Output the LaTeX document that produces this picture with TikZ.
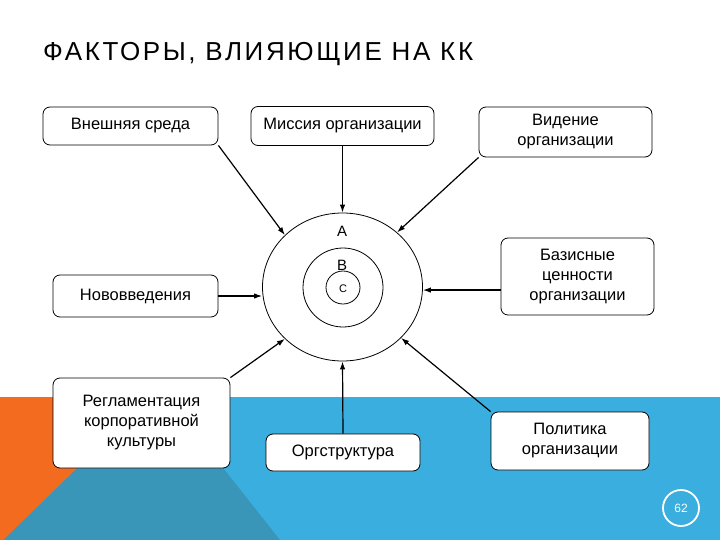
\documentclass[tikz,border=0pt]{standalone}
\usepackage{fontspec}
\setmainfont{Liberation Sans}
\newfontfamily\titlefont[LetterSpace=10]{Liberation Sans}
\usetikzlibrary{shapes.geometric,arrows.meta}

\definecolor{bandblue}{RGB}{58,174,222}
\definecolor{darkteal}{RGB}{58,150,185}
\definecolor{sliceorange}{RGB}{242,107,31}

\begin{document}
\begin{tikzpicture}[x=1pt, y=-1pt,
    factor/.style={draw, fill=white, rounded corners=7pt, align=center,
        inner sep=0pt, line width=0.8pt, font=\fontsize{16.5}{20}\selectfont},
    ring/.style={draw, ellipse, inner sep=0pt, line width=0.8pt},
    link/.style={-{Latex[length=8pt,width=5.5pt]}, line width=1.2pt}]
    % Background
    \useasboundingbox (0,0) rectangle (720,540);
    \fill[white] (0,0) rectangle (720,540);
    \fill[bandblue] (0,397) rectangle (720,540);
    \fill[darkteal] (150,397) -- (167,397) -- (280,540) -- (3,540) -- cycle;
    \fill[sliceorange] (0,397) -- (150,397) -- (3,540) -- (0,540) -- cycle;

    % Title
    \node[anchor=base west, inner sep=0pt, text=black,
        font=\titlefont\fontsize{26}{30}\selectfont] (title) at (43,61)
        {ФАКТОРЫ, ВЛИЯЮЩИЕ НА КК};

    % Rings
    \node[ring, minimum width=160pt, minimum height=148pt] (ringA) at (342.5,287) {};
    \node[ring, minimum width=80pt, minimum height=79pt] (ringB) at (343,287.5) {};
    \node[ring, minimum width=34pt, minimum height=33pt] (ringC) at (343,287.5) {};
    \node[font=\fontsize{15}{18}\selectfont] (labA) at (342,231) {A};
    \node[font=\fontsize{15}{18}\selectfont] (labB) at (342,265) {B};
    \node[font=\fontsize{11}{13}\selectfont] (labC) at (343,289) {C};

    % Factors
    \node[factor, minimum width=175pt, minimum height=38pt] (ext) at (130.5,126) {Внешняя среда};
    \node[factor, minimum width=183pt, minimum height=39pt] (mission) at (342.5,126) {Миссия организации};
    \node[factor, minimum width=173pt, minimum height=50pt] (vision) at (565.5,132) {Видение\\организации};
    \node[factor, minimum width=165pt, minimum height=42pt] (innov) at (135.5,296) {Нововведения};
    \node[factor, minimum width=153pt, minimum height=77pt] (values) at (577.5,276.5) {Базисные\\ценности\\организации};
    \node[factor, minimum width=177pt, minimum height=90pt] (reg) at (141.5,423) {Регламентация\\корпоративной\\культуры};
    \node[factor, minimum width=154pt, minimum height=37pt] (org) at (343,452.5) {Оргструктура};
    \node[factor, minimum width=158pt, minimum height=58pt] (policy) at (570,441) {Политика\\организации};

    % Influences
    \draw[link] (ext.south east) -- (ringA.138);
    \draw[link] (mission.south) -- (ringA.north);
    \draw[link] (vision.south west) -- (ringA.45);
    \draw[link] (innov.east) -- (innov.east -| ringA.west);
    \draw[link] (values.190) -- (values.190 -| ringA.east);
    \draw[link] (reg.north east) -- (ringA.-138);
    \draw[link] (org.north) -- (ringA.south);
    \draw[link] (policy.north west) -- (ringA.-41);

    % Slide number
    \node[circle, draw=white, line width=1.8pt, minimum size=36pt, text=white,
        font=\fontsize{12}{14}\selectfont] (slideno) at (681,508) {62};
\end{tikzpicture}
\end{document}
